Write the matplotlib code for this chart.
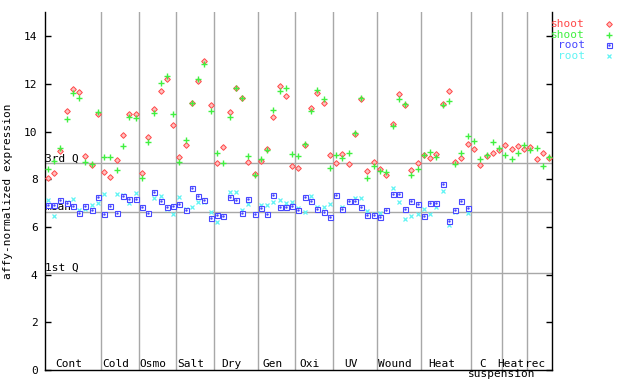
import numpy as np
import matplotlib
matplotlib.use('Agg')
import matplotlib.pyplot as plt

# condition groups along the x axis (number of samples in each)
groups = ['Cont', 'Cold', 'Osmo', 'Salt', 'Dry', 'Gen', 'Oxi', 'UV',
          'Wound', 'Heat', 'C', 'Heat', 'rec']
group_sizes = [9, 6, 6, 6, 7, 6, 6, 7, 7, 8, 5, 4, 4]

# reference lines
q3_value = 8.67
mean_value = 6.62
q1_value = 4.08

shoot_a = [8.04, 8.25, 9.19, 10.86, 11.77, 11.66, 8.96, 8.62, 10.75,
           8.29, 8.08, 8.80, 9.84, 10.72, 10.72,
           8.25, 9.77, 10.93, 11.70, 12.19, 10.26,
           8.94, 9.45, 11.19, 12.12, 12.95, 11.10,
           8.67, 9.34, 10.81, 11.84, 11.40, 8.71, 8.21,
           8.78, 9.27, 10.60, 11.91, 11.48, 8.56,
           8.46, 9.44, 10.99, 11.61, 11.19, 9.03,
           8.67, 9.08, 8.63, 9.90, 11.38, 8.33, 8.74,
           8.42, 8.18, 10.31, 11.56, 11.13, 8.38, 8.67,
           9.02, 8.89, 9.05, 11.14, 11.69, 8.74, 8.89, 9.47,
           9.26, 8.59, 8.96, 9.09, 9.22,
           9.43, 9.26, 9.38, 9.26,
           9.34, 8.84, 9.09, 8.91]

shoot_b = [8.42, 8.75, 9.33, 10.53, 11.61, 11.40, 8.71, 8.64, 10.82,
           8.94, 8.94, 8.38, 9.38, 10.63, 10.59,
           8.04, 9.58, 10.77, 12.04, 12.32, 10.72,
           8.71, 9.65, 11.20, 12.21, 12.82, 10.86,
           9.09, 8.70, 10.60, 11.84, 11.42, 8.96, 8.18,
           8.84, 9.23, 10.91, 11.70, 11.81, 9.05,
           8.96, 9.47, 10.86, 11.75, 11.37, 8.46,
           9.01, 8.88, 9.10, 9.93, 11.40, 8.04, 8.56,
           8.35, 8.29, 10.24, 11.35, 11.14, 8.17, 8.42,
           9.01, 9.13, 8.94, 11.12, 11.28, 8.66, 9.09, 9.80,
           9.59, 8.84, 9.01, 9.55, 9.31,
           9.01, 8.84, 9.09, 9.43,
           9.22, 9.31, 8.54, 8.94]

nan = np.nan
root_a = [6.92, 6.92, 7.12, 7.02, 6.88, 6.59, 6.88, 6.70, 7.26,
          6.55, 6.90, 6.59, 7.31, 7.17, 7.17,
          6.83, 6.57, 7.45, 7.08, 6.83, 6.87,
          6.95, 6.73, 7.62, 7.29, 7.12, 6.36,
          6.49, 6.45, 7.24, 7.12, 6.57, 7.16, 6.53,
          6.78, 6.53, 7.33, 6.83, 6.83, 6.87,
          6.70, 7.24, 7.08, 6.74, 6.62, 6.41,
          7.33, 6.74, 7.08, 7.08, 6.83, 6.49, 6.49,
          6.41, 6.71, 7.37, 7.37, 6.74, 7.08, 6.95,
          6.45, 6.99, 6.99, 7.79, 6.24, 6.70, 7.09, 6.78,
          nan, nan, nan, nan, nan,
          nan, nan, nan, nan,
          nan, nan, nan, nan]

root_b = [7.13, 6.46, 7.10, 7.06, 7.17, 6.70, 6.76, 6.91, 7.02,
          7.38, 6.90, 7.38, 7.34, 7.01, 7.43,
          6.85, 6.60, 7.20, 7.29, 6.76, 6.53,
          7.24, 6.75, 6.83, 7.04, 7.06, 6.62,
          6.20, 6.45, 7.45, 7.45, 6.71, 6.95, 6.53,
          6.91, 6.91, 7.06, 7.12, 7.02, 7.06,
          6.78, 6.62, 7.30, 6.83, 6.83, 6.95,
          7.29, 6.83, 7.06, 7.20, 7.20, 6.66, 6.53,
          6.57, 6.71, 7.62, 7.06, 6.32, 6.45, 6.53,
          6.74, 6.53, 6.83, 7.50, 6.10, 6.62, 7.09, 6.57,
          nan, nan, nan, nan, nan,
          nan, nan, nan, nan,
          nan, nan, nan, nan]

RED = '#ff4848'
GREEN = '#40f040'
BLUE = '#4848ff'
CYAN = '#60f4f4'
GRID = '#a8a8a8'

plt.rcParams['font.family'] = 'DejaVu Sans Mono'
plt.rcParams['font.size'] = 8

fig = plt.figure(figsize=(6.4, 3.84), dpi=100)
ax = fig.add_axes([0.0697, 0.0362, 0.7934, 0.9315])

x = np.arange(len(shoot_a))
ends = np.cumsum(group_sizes)
starts = ends - np.array(group_sizes)

# group separators and reference lines
for b in ends[:-1]:
    ax.axvline(b - 0.5, color=GRID, lw=1, zorder=1)
for val, name in [(q3_value, '3rd Q'), (mean_value, 'mean'), (q1_value, '1st Q')]:
    ax.axhline(val, color=GRID, lw=1, zorder=1)
    ax.text(-0.5, val, name, ha='left', va='bottom', color='black', zorder=2)

styles = [
    (shoot_a, dict(marker='D', ms=2.9, mfc='#ffc0c0', mec=RED, mew=0.7)),
    (shoot_b, dict(marker='+', ms=4.6, color=GREEN, mew=1.0)),
    (root_b, dict(marker='x', ms=3.4, color=CYAN, mew=0.9)),
    (root_a, dict(marker='s', ms=3.6, mfc='white', mec=BLUE, mew=0.8)),
]
for vals, st in styles:
    ax.plot(x, vals, ls='none', zorder=3, **st)
ax.plot(x, root_a, ls='none', marker='s', ms=0.7, color=BLUE, zorder=4)

# group labels inside the bottom of the axes
xt = ax.get_xaxis_transform()
for name, s, e in zip(groups, starts, ends):
    cx = (s + e - 1) / 2 - 0.7
    ax.text(cx, 0.009, name, ha='center', va='baseline', transform=xt)
c_idx = groups.index('C')
ax.text((starts[c_idx] + ends[c_idx] - 1) / 2 + 2.4, -0.02, 'suspension',
        ha='center', va='baseline', transform=xt, clip_on=False)

ax.set_xlim(-0.5, len(x) - 0.5)
ax.set_ylim(0, 15)
ax.set_xticks([])
ax.set_yticks(range(0, 15, 2))
ax.tick_params(axis='y', direction='in', length=4, width=1, pad=5,
               left=True, right=True, labelsize=8)
ax.spines['top'].set_visible(False)
for sp in ['left', 'right', 'bottom']:
    ax.spines[sp].set_linewidth(1)
ax.set_ylabel('affy-normalized expression', labelpad=8)

# legend at the top right, outside the axes
legend_rows = [('shoot', RED, styles[0][1]), ('shoot', GREEN, styles[1][1]),
               ('root', BLUE, styles[3][1]), ('root', CYAN, styles[2][1])]
for k, (lab, col, st) in enumerate(legend_rows):
    yy = 1 - (24 + 10.7 * k) / 384
    fig.text(585 / 640, yy, lab, ha='right', va='center', color=col)
    ax.plot([609 / 640], [yy], transform=fig.transFigure, clip_on=False,
            ls='none', **st)
    if lab == 'root' and col == BLUE:
        ax.plot([609 / 640], [yy], transform=fig.transFigure, clip_on=False,
                ls='none', marker='s', ms=0.7, color=BLUE)

fig.savefig('out.png', dpi=100)
